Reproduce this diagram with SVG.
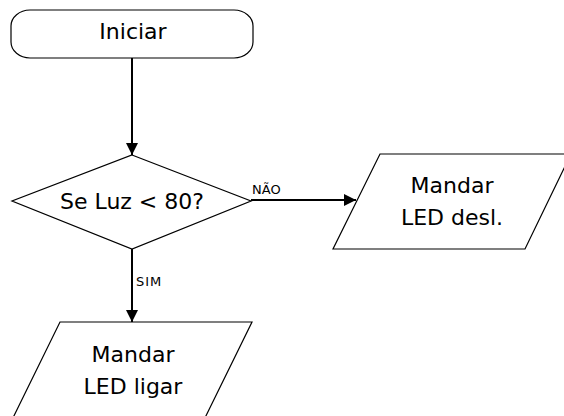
<svg xmlns="http://www.w3.org/2000/svg" width="564" height="416" viewBox="0 0 564 416">
  <style>
    .shape { fill: #ffffff; stroke: #000000; stroke-width: 1.2; }
    .txt { font-family: "DejaVu Sans", Verdana, sans-serif; font-size: 22px; fill: #000000; text-anchor: middle; }
    .lbl { font-family: "DejaVu Sans", Verdana, sans-serif; font-size: 13px; fill: #000000; }
    .conn { fill: none; stroke: #000000; stroke-width: 2; }
  </style>
  <defs>
    <marker id="arrow" markerUnits="userSpaceOnUse" markerWidth="12" markerHeight="12" refX="12" refY="6" orient="auto">
      <path d="M0,0 L12,6 L0,12 Z" fill="#000000"/>
    </marker>
  </defs>
  <rect width="564" height="416" fill="#ffffff"/>

  <g id="connectors">
    <line class="conn" x1="132" y1="58" x2="132" y2="155" marker-end="url(#arrow)"/>
    <line class="conn" x1="251" y1="200" x2="356" y2="200" marker-end="url(#arrow)"/>
    <line class="conn" x1="132" y1="249" x2="132" y2="322" marker-end="url(#arrow)"/>
    <text class="lbl" x="252" y="194">NÃO</text>
    <text class="lbl" x="136" y="286" style="letter-spacing:1px">SIM</text>
  </g>

  <g id="start">
    <rect class="shape" x="11" y="10" width="242" height="48" rx="19" ry="16"/>
    <text class="txt" x="133" y="39">Iniciar</text>
  </g>

  <g id="decision">
    <polygon class="shape" points="132,155 251,201 132,249 12,201"/>
    <text class="txt" x="132" y="209">Se Luz &lt; 80?</text>
  </g>

  <g id="led-off">
    <polygon class="shape" points="380,154 571,154 525,249 333,249"/>
    <text class="txt" x="452" y="193">Mandar</text>
    <text class="txt" x="452" y="225">LED desl.</text>
  </g>

  <g id="led-on">
    <polygon class="shape" points="60,322 252,322 200,428 8,428"/>
    <text class="txt" x="133" y="362">Mandar</text>
    <text class="txt" x="133" y="394">LED ligar</text>
  </g>
</svg>
